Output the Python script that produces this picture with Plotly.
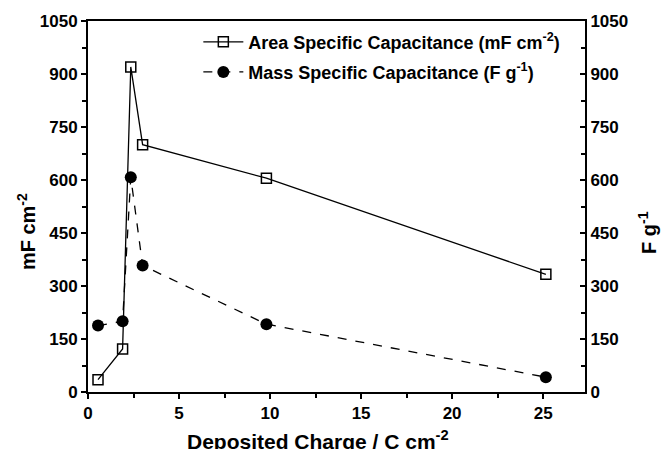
import plotly.graph_objects as go

charge = [0.55, 1.9, 2.35, 3.0, 9.8, 25.15]
area_cap = [35, 122, 920, 700, 605, 333]
mass_cap = [188, 200, 608, 358, 192, 42]
x_ticks = [0, 5, 10, 15, 20, 25]
y_ticks = [0, 150, 300, 450, 600, 750, 900, 1050]

FONT = "Liberation Sans, Arial, sans-serif"

fig = go.Figure()
fig.add_trace(go.Scatter(
    x=charge, y=area_cap, mode="lines+markers", legend="legend",
    name="<b>Area Specific Capacitance (mF cm<sup>-2</sup>)</b>",
    line=dict(color="black", width=1.3),
    marker=dict(symbol="square-open", size=10, color="black", line=dict(width=1.5)),
))
fig.add_trace(go.Scatter(
    x=charge, y=mass_cap, mode="lines+markers", yaxis="y2", legend="legend2",
    name="<b>Mass Specific Capacitance (F g<sup>-1</sup>)</b>",
    line=dict(color="black", width=1.3, dash="dash"),
    marker=dict(symbol="circle", size=12, color="black"),
))

def axis(ticks="outside"):
    return dict(
        showline=True, linecolor="black", linewidth=2,
        ticks=ticks, ticklen=5, tickwidth=2, tickcolor="black",
        showgrid=False, zeroline=False, automargin=False,
        tickfont=dict(family=FONT, size=17, color="black", weight="bold"),
        minor=dict(ticks=ticks, ticklen=4, tickwidth=2, tickcolor="black"),
    )

leg = dict(xanchor="left", yanchor="middle", bgcolor="rgba(0,0,0,0)",
           font=dict(size=18, family=FONT, color="black"), itemwidth=40)

fig.update_layout(
    width=666, height=449,
    margin=dict(l=88, r=81, t=21, b=57),
    paper_bgcolor="white", plot_bgcolor="white",
    font=dict(family=FONT, color="black"),
    showlegend=True,
    legend=dict(x=0.222, y=0.943, **leg),
    legend2=dict(x=0.222, y=0.862, **leg),
    xaxis=dict(range=[0, 27.3], tickvals=x_ticks, mirror=True, **axis()),
    yaxis=dict(range=[0, 1050], tickvals=y_ticks, **axis()),
    yaxis2=dict(range=[0, 1050], tickvals=y_ticks, overlaying="y", side="right",
                **axis("inside")),
    annotations=[
        dict(text="<b>Deposited Charge / C cm<sup>-2</sup></b>", xref="paper", yref="paper",
             x=0.4628, y=-0.129, showarrow=False, xanchor="center", yanchor="middle",
             font=dict(size=21, family=FONT, color="black")),
        dict(text="<b>mF cm<sup>-2</sup></b>", xref="paper", yref="paper",
             x=-0.1247, y=0.431, showarrow=False, textangle=-90,
             xanchor="center", yanchor="middle",
             font=dict(size=20, family=FONT, color="black")),
        dict(text="<b>F g<sup>-1</sup></b>", xref="paper", yref="paper",
             x=1.1268, y=0.4286, showarrow=False, textangle=-90,
             xanchor="center", yanchor="middle",
             font=dict(size=20, family=FONT, color="black")),
    ],
)
fig.update_xaxes(minor_dtick=2.5)
fig.update_yaxes(minor_dtick=75)

fig.write_html("out.html")
